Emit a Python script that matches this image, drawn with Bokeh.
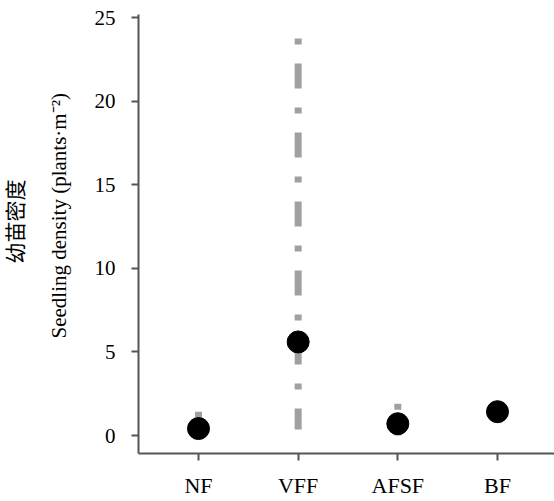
from bokeh.plotting import figure
from bokeh.models import LinearAxis, FixedTicker, Range1d, ColumnDataSource, Title
from bokeh.embed import file_html
from bokeh.resources import INLINE
import numpy as np

categories = ["NF", "VFF", "AFSF", "BF"]
means = [0.42, 5.6, 0.71, 1.43]
lower = [0.0, 0.36, 0.0, 1.0]
upper = [1.43, 23.75, 1.9, 1.8]
y_ticks = [0, 5, 10, 15, 20, 25]

xpos = list(np.arange(1, len(categories) + 1))
src = ColumnDataSource(dict(x=xpos, mean=means, lo=lower, hi=upper))

p = figure(width=554, height=500, output_backend="svg", toolbar_location=None,
           x_range=Range1d(0.398, 4.572), y_range=Range1d(-1.07, 25.18),
           min_border_left=138, min_border_right=0, min_border_top=14, min_border_bottom=45)
p.xgrid.visible = False
p.ygrid.visible = False
p.outline_line_color = None
p.background_fill_color = "white"
p.border_fill_color = "white"

axis_col = "#555555"
serif = "Liberation Serif"

# x axis
xa = p.xaxis[0]
xa.ticker = FixedTicker(ticks=xpos)
xa.major_label_overrides = {int(x): c for x, c in zip(xpos, categories)}
xa.axis_line_color = axis_col
xa.axis_line_width = 2
xa.major_tick_line_color = axis_col
xa.major_tick_line_width = 2
xa.major_tick_in = 0
xa.major_tick_out = 7
xa.minor_tick_line_color = None
xa.major_label_standoff = 12
xa.major_label_text_font = serif
xa.major_label_text_font_size = "22px"
xa.major_label_text_color = "black"

# y axis
ya = p.yaxis[0]
ya.ticker = FixedTicker(ticks=y_ticks)
ya.axis_line_color = axis_col
ya.axis_line_width = 2
ya.major_tick_line_color = axis_col
ya.major_tick_line_width = 2
ya.major_tick_in = 0
ya.major_tick_out = 7
ya.minor_tick_line_color = None
ya.major_label_standoff = 16
ya.major_label_text_font = serif
ya.major_label_text_font_size = "21px"
ya.major_label_text_color = "black"

# y labels as side titles (English inner, Chinese outer)
t_en = Title(text="Seedling density (plants·m⁻²)", align="left", offset=115,
             text_font=serif, text_font_size="21px", text_font_style="normal",
             text_color="black", standoff=42)
p.add_layout(t_en, "left")
t_cn = Title(text="幼苗密度", align="left", offset=190,
             text_font="Noto Sans CJK SC", text_font_size="21px", text_font_style="normal",
             text_color="black", standoff=-11)
p.add_layout(t_cn, "left")

# range bars (dash-dot)
p.segment(x0="x", y0="hi", x1="x", y1="lo", source=src, line_color="#a0a0a0",
          line_width=7, line_dash="6 19 25 19", line_cap="butt")
# means
p.scatter(x="x", y="mean", source=src, size=22, fill_color="black", line_color="black")

open("out.html", "w").write(file_html(p, INLINE))
